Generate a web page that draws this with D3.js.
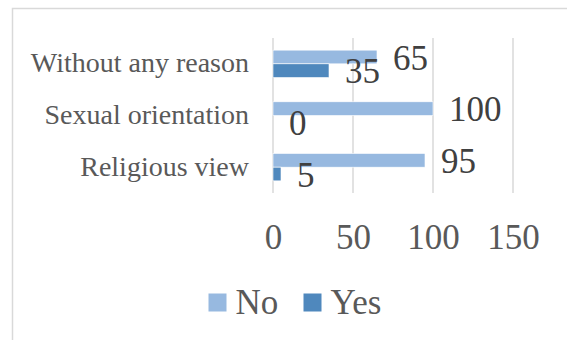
<!DOCTYPE html>
<html>
<head>
<meta charset="utf-8">
<script src="https://cdn.jsdelivr.net/npm/d3@7"></script>
<style>
  body { margin: 0; background: #fff; }
  svg { display: block; }
  svg text { font-family: "Liberation Serif", "Times New Roman", Tinos, "DejaVu Serif", serif !important; }
</style>
</head>
<body>
<svg width="567" height="340"></svg>
<script>
// chart data
const categories = ["Without any reason", "Sexual orientation", "Religious view"];
const seriesNames = ["No", "Yes"];
const noValues = [65, 100, 95];
const yesValues = [35, 0, 5];
const tickValues = [0, 50, 100, 150];

const colors = {No: "#97b9e0", Yes: "#4f88bd"};

const svg = d3.select("svg");

// chart area border (runs off the right and bottom edge)
svg.append("rect")
  .attr("x", 12.5).attr("y", 8.5)
  .attr("width", 600).attr("height", 400)
  .attr("fill", "none")
  .attr("stroke", "#d9d9d9")
  .attr("stroke-width", 1.5);

// scales
const x = d3.scaleLinear().domain([0, 150]).range([273, 513]);
const y = d3.scaleBand()
  .domain(categories)
  .range([38, 193])
  .paddingInner(0.47)
  .paddingOuter(0.235);
const ySub = d3.scaleBand()
  .domain(seriesNames)
  .range([0, y.bandwidth()]);

// gridlines
svg.append("g").selectAll("line")
  .data(tickValues)
  .enter().append("line")
  .attr("x1", d => x(d)).attr("x2", d => x(d))
  .attr("y1", 38).attr("y2", 193)
  .attr("stroke", "#d9d9d9")
  .attr("stroke-width", 1.5);

// rows built from the arrays
const rows = categories.map((c, i) => ({cat: c, No: noValues[i], Yes: yesValues[i]}));

const groups = svg.append("g").selectAll("g")
  .data(rows)
  .enter().append("g")
  .attr("transform", d => `translate(0,${y(d.cat)})`);

groups.selectAll("rect")
  .data(d => seriesNames.map(s => ({s: s, v: d[s]})))
  .enter().append("rect")
  .attr("x", x(0))
  .attr("y", d => ySub(d.s))
  .attr("width", d => x(d.v) - x(0))
  .attr("height", ySub.bandwidth())
  .attr("fill", d => colors[d.s])
  .attr("stroke", "#fff")
  .attr("stroke-width", 0.6);

// value labels
groups.selectAll("text")
  .data(d => seriesNames.map(s => ({s: s, v: d[s]})))
  .enter().append("text")
  .attr("x", d => x(d.v) + 16)
  .attr("y", d => ySub(d.s) + ySub.bandwidth() / 2 + 12.5)
  .attr("font-size", 35)
  .attr("fill", "#404040")
  .text(d => d.v);

// category axis
const yAxis = d3.axisLeft(y).tickSize(0).tickPadding(0);
const yAxisGroup = svg.append("g")
  .attr("transform", "translate(249,0)")
  .call(yAxis);
yAxisGroup.select(".domain").remove();
yAxisGroup.selectAll("text")
  .attr("font-size", 28)
  .attr("fill", "#595959")
  .attr("dy", "0.3em");

// value axis
const xAxis = d3.axisBottom(x).tickValues(tickValues).tickSize(0).tickPadding(0);
const xAxisGroup = svg.append("g")
  .attr("transform", "translate(0,249)")
  .call(xAxis);
xAxisGroup.select(".domain").remove();
xAxisGroup.selectAll("text")
  .attr("font-size", 35)
  .attr("fill", "#595959")
  .attr("dy", 0);

// legend
const legendX = {No: 208.5, Yes: 303.5};
const legend = svg.append("g").selectAll("g")
  .data(seriesNames)
  .enter().append("g")
  .attr("transform", d => `translate(${legendX[d]},293.5)`);
legend.append("rect")
  .attr("width", 18).attr("height", 18)
  .attr("fill", d => colors[d]);
legend.append("text")
  .attr("x", 27).attr("y", 20.5)
  .attr("font-size", 35)
  .attr("fill", "#595959")
  .text(d => d);
</script>
</body>
</html>
